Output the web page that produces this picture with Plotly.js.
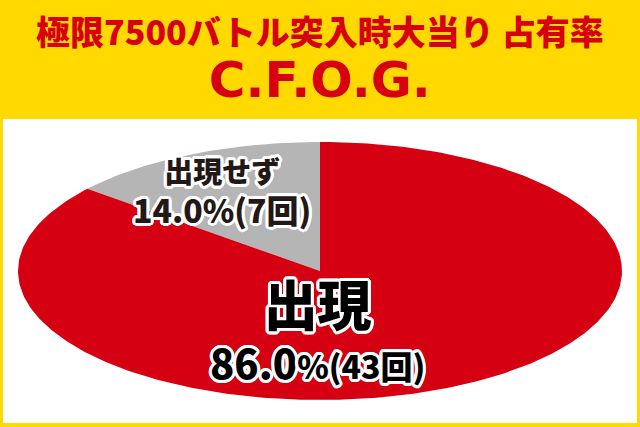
<!DOCTYPE html>
<html>
<head>
<meta charset="utf-8">
<script src="https://cdn.plot.ly/plotly-3.0.1.min.js"></script>
<style>
html,body{margin:0;padding:0;background:#FFD900;}
#chart{width:640px;height:427px;}
</style>
</head>
<body>
<div id="chart"></div>
<script>
// ---- data ----
const titleLine1 = '極限7500バトル突入時大当り 占有率';
const titleLine2 = 'C.F.O.G.';
const labels = ['出現せず', '出現'];
const counts = [7, 43];
const colors = ['#B5B5B6', '#D50012'];

const total = counts.reduce((a, b) => a + b, 0);
const pcts = counts.map(c => (c / total * 100).toFixed(1));

// ---- pie slices drawn as filled paths on axes (unit circle -> ellipse via axis scaling) ----
const traces = [];
let cum = 0;
counts.forEach((c, i) => {
  const f0 = cum / total, f1 = (cum + c) / total;
  cum += c;
  const xs = [0], ys = [0];
  const steps = Math.max(4, Math.ceil((f1 - f0) * 400));
  for (let s = 0; s <= steps; s++) {
    const f = f0 + (f1 - f0) * s / steps;
    const ang = Math.PI / 2 + f * 2 * Math.PI; // start at top, counterclockwise
    xs.push(Math.cos(ang));
    ys.push(Math.sin(ang));
  }
  xs.push(0); ys.push(0);
  traces.push({
    type: 'scatter', mode: 'lines', x: xs, y: ys,
    fill: 'toself', fillcolor: colors[i],
    line: {width: 0, color: colors[i]},
    hoverinfo: 'skip', showlegend: false
  });
});

const H = 427, W = 640;
const py = v => (H - v) / H;
const px = v => v / W;

function ring(r) {
  const parts = [];
  for (let k = 0; k < 16; k++) {
    const a = k * Math.PI / 8;
    parts.push((r * Math.cos(a)).toFixed(1) + 'px ' + (r * Math.sin(a)).toFixed(1) + 'px 0 #fff');
  }
  return parts.join(', ');
}
const outline = ring(3);
const jp = '"Noto Sans CJK JP", "Noto Sans", sans-serif';

const grayText = '<span style="font-size:29px">' + labels[0] + '</span><br>' +
                 '<span style="font-size:32px">' + pcts[0] + '%(' + counts[0] + '回)</span>';
const redText = '<span style="font-size:54px">' + labels[1] + '</span><br>' +
                '<span style="font-size:40px">' + pcts[1] + '</span><span style="font-size:32px">%(' + counts[1] + '回)</span>';

const layout = {
  width: W, height: H,
  margin: {l: 0, r: 0, t: 0, b: 0},
  paper_bgcolor: '#FFD900',
  plot_bgcolor: 'rgba(0,0,0,0)',
  xaxis: {domain: [px(18), px(622)], range: [-1, 1], visible: false, fixedrange: true},
  yaxis: {domain: [py(400), py(142)], range: [-1, 1], visible: false, fixedrange: true},
  shapes: [{
    type: 'rect', xref: 'paper', yref: 'paper', layer: 'below',
    x0: px(3), x1: px(637), y0: py(423), y1: py(119),
    fillcolor: '#FFFFFF', line: {width: 0}
  }],
  annotations: [
    {text: '<span style="font-size:34px">' + titleLine1 + '</span><br>' +
           '<span style="font-size:50px;font-family:DejaVu Sans,Noto Sans,sans-serif">' + titleLine2 + '</span>',
     xref: 'paper', yref: 'paper', x: 0.5, y: py(57), showarrow: false,
     xanchor: 'center', yanchor: 'middle', align: 'center',
     font: {family: jp, size: 40, color: '#D7000F', weight: 900}},
    {text: grayText, xref: 'paper', yref: 'paper', x: px(222), y: py(190), showarrow: false,
     xanchor: 'center', yanchor: 'middle', align: 'center',
     font: {family: jp, size: 30.5, color: '#231815', weight: 900, shadow: outline}},
    {text: redText, xref: 'paper', yref: 'paper', x: px(317), y: py(327), showarrow: false,
     xanchor: 'center', yanchor: 'middle', align: 'center',
     font: {family: jp, size: 41, color: '#000000', weight: 900, shadow: outline}}
  ]
};

Plotly.newPlot('chart', traces, layout, {staticPlot: true, displayModeBar: false});
</script>
</body>
</html>
